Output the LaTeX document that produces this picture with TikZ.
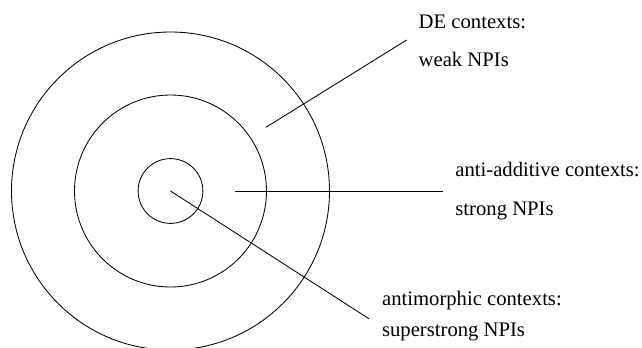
\documentclass[tikz,border=0pt]{standalone}
\usepackage{fontspec}
\setmainfont{Liberation Serif}
\usetikzlibrary{positioning}

\tikzset{
  lbl/.style={anchor=base west, inner sep=0pt, font=\fontsize{9.8}{12}\selectfont},
}

\begin{document}
\begin{tikzpicture}[scale=0.5]
%      \draw [help lines, opacity=0.5] (0,0) grid (21,11);
      \useasboundingbox (0,0) rectangle (21.4,11.6);
      \coordinate (mid) at (5.683,5.233);
      \draw (mid) circle (5.3);
      \draw (mid) circle (3.2);
      \draw (mid) circle (1.08);

      % DE
      \coordinate (deA) at (8.867,7.357);
      \coordinate (deB) at (13.557,10.267);
      \draw (deA) -- (deB);
      \node [lbl] (de1) at (13.943,10.657) {DE contexts:};
      \node [lbl] (de2) at (13.943,9.377) {weak NPIs};

      % anti-additive
      \coordinate (aaA) at (7.833,5.217);
      \coordinate (aaB) at (14.757,5.217);
      \draw (aaA) -- (aaB);
      \node [lbl] (aa1) at (15.167,5.71) {anti-additive contexts:};
      \node [lbl] (aa2) at (15.167,4.433) {strong NPIs};

      % antimorphic
      \coordinate (amB) at (12.31,0.967);
      \draw (mid) -- (amB);
      \node [lbl] (am1) at (12.723,1.433) {antimorphic contexts:};
      \node [lbl] (am2) at (12.723,0.377) {superstrong NPIs};
\end{tikzpicture}
\end{document}
